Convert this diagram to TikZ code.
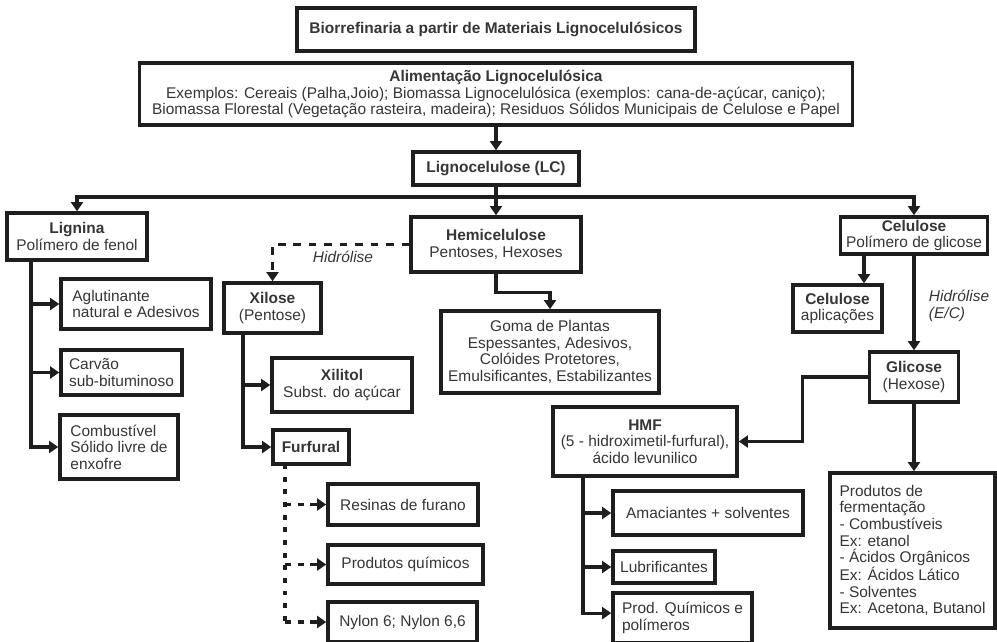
\documentclass[tikz,border=0pt]{standalone}
\usepackage{fontspec}
\setmainfont{Liberation Sans}
\usetikzlibrary{arrows.meta}
\definecolor{ink}{HTML}{1E1E1E}
\definecolor{txt}{HTML}{363636}

\begin{document}
\begin{tikzpicture}[x=0.025cm,y=-0.025cm,
    box/.style={draw=ink,line width=2.5pt,fill=white,inner sep=0pt,align=center,text=txt,
        font=\fontsize{11}{11.8}\selectfont},
    sz/.style 2 args={minimum width=#1*0.025cm,minimum height=#2*0.025cm},
    link/.style={draw=ink,line width=2.2pt},
    arr/.style={link,-{Triangle[length=6.5pt,width=8.5pt]}},
    hidline/.style={dash pattern=on 5.5pt off 5.5pt},
    furline/.style={dash pattern=on 3.5pt off 5.5pt},
    fursub/.style={dash pattern=on 4.5pt off 4.5pt},
    hyd/.style={text=txt,font=\fontsize{11}{11.8}\selectfont\itshape,align=left}]

            \useasboundingbox (0,0) rectangle (997,641);

            % Top boxes:
            \node[box,sz={398}{43}] (title) at (496,29.5) {\bfseries Biorrefinaria a partir de Materiais Lignocelulósicos};
            \node[box,sz={713}{62}] (alim) at (496,94) {\textbf{Alimentação Lignocelulósica}\\Exemplos: Cereais (Palha,Joio); Biomassa Lignocelulósica (exemplos: cana-de-açúcar, caniço);\\Biomassa Florestal (Vegetação rasteira, madeira); Residuos Sólidos Municipais de Celulose e Papel};
            \node[box,sz={166}{33}] (lc) at (496,168.5) {\bfseries Lignocelulose (LC)};

            %fractions
            \node[box,sz={140}{47}] (lig) at (77,236.5) {\textbf{Lignina}\\Polímero de fenol};
            \node[box,sz={170}{55}] (hemi) at (496,244.5) {\textbf{Hemicelulose}\\Pentoses, Hexoses};
            \node[box,sz={147}{37}] (cel) at (914,235.5) {\textbf{Celulose}\\Polímero de glicose};

            %lignina
            \node[box,sz={150}{50},align=left] (agl) at (136,304) {Aglutinante\\natural e Adesivos};
            \node[box,sz={121}{45},align=left] (carv) at (121.5,372.5) {Carvão\\sub-bituminoso};
            \node[box,sz={118}{64},align=left] (comb) at (119,447) {Combustível\\Sólido livre de\\enxofre};

            %hemicelulose
            \node[box,sz={97}{50}] (xil) at (272.5,308) {\textbf{Xilose}\\(Pentose)};
            \node[box,sz={140}{54}] (xlt) at (342,385) {\textbf{Xilitol}\\Subst. do açúcar};
            \node[box,sz={76}{34}] (furf) at (311,447) {\bfseries Furfural};
            \node[box,sz={150}{41}] (resin) at (403,504.5) {Resinas de furano};
            \node[box,sz={155}{39}] (quim) at (405.5,564.5) {Produtos químicos};
            \node[box,sz={149}{40}] (nylon) at (402.5,622) {Nylon 6; Nylon 6,6};
            \node[box,sz={218}{82}] (goma) at (550,352) {Goma de Plantas\\Espessantes, Adesivos,\\Colóides Protetores,\\Emulsificantes, Estabilizantes};

            %celulose
            \node[box,sz={89}{47}] (celap) at (837.5,308.5) {\textbf{Celulose}\\aplicações};
            \node[box,sz={89}{50}] (glic) at (914,377) {\textbf{Glicose}\\(Hexose)};
            \node[box,sz={184}{69}] (hmf) at (645,441.5) {\textbf{HMF}\\(5 - hidroximetil-furfural),\\ácido levunilico};
            \node[box,sz={190}{44}] (amac) at (708,513) {Amaciantes + solventes};
            \node[box,sz={102}{32}] (lubr) at (664,567) {Lubrificantes};
            \node[box,sz={139}{50},align=left] (pol) at (682.5,618) {Prod. Químicos e\\polímeros};
            \node[box,sz={165}{155},align=left] (ferm) at (912.5,550.5) {Produtos de\\fermentação\\- Combustíveis\\Ex: etanol\\- Ácidos Orgânicos\\Ex: Ácidos Lático\\- Solventes\\Ex: Acetona, Butanol};

            %labels
            \node[hyd] (hyd1) at (343,257) {Hidrólise};
            \node[hyd,anchor=west] (hyd2) at (924,306) {Hidrólise\\(E/C)};

            %main split
            \coordinate (split) at (496,197);
            \draw[arr] (alim.south) -- (lc.north);
            \draw[link] (lc.south) -- (split);
            \draw[arr] (split) -| (lig.north);
            \draw[arr] (split) -- (hemi.north);
            \draw[arr] (split) -| (cel.north);

            %lignina branch
            \coordinate (ligbase) at (31,260);
            \draw[arr] (ligbase) |- (comb.west);
            \draw[arr] (ligbase |- agl.west) -- (agl.west);
            \draw[arr] (ligbase |- carv.west) -- (carv.west);

            %xilose branch
            \draw[arr,hidline] (hemi.west) -| (xil.north);
            \coordinate (xilbase) at (243,333);
            \draw[arr] (xilbase) |- (furf.west);
            \draw[arr] (xilbase |- xlt.west) -- (xlt.west);

            %furfural branch
            \coordinate (furbase) at (285,464);
            \draw[link,furline] (furbase) -- (furbase |- nylon.west);
            \draw[arr,fursub] (furbase |- resin.west) -- (resin.west);
            \draw[arr,fursub] (furbase |- quim.west) -- (quim.west);
            \draw[arr,fursub] (furbase |- nylon.west) -- (nylon.west);

            %goma
            \draw[arr] (hemi.south) -- ++(0,19) -| (goma.north);

            %celulose branch
            \coordinate (celsplit) at (864,254);
            \draw[arr] (celsplit) -- (celsplit |- celap.north);
            \draw[arr] (cel.south) -- (glic.north);
            \draw[arr] (glic.west) -- ++(-65,0) |- (hmf.east);
            \draw[arr] (glic.south) -- (glic.south |- ferm.north);

            %hmf branch
            \coordinate (hmfbase) at (583,476);
            \draw[arr] (hmfbase) |- ([yshift=3.5pt]pol.west);
            \draw[arr] (hmfbase |- amac.west) -- (amac.west);
            \draw[arr] (hmfbase |- lubr.west) -- (lubr.west);
        \end{tikzpicture}
\end{document}
